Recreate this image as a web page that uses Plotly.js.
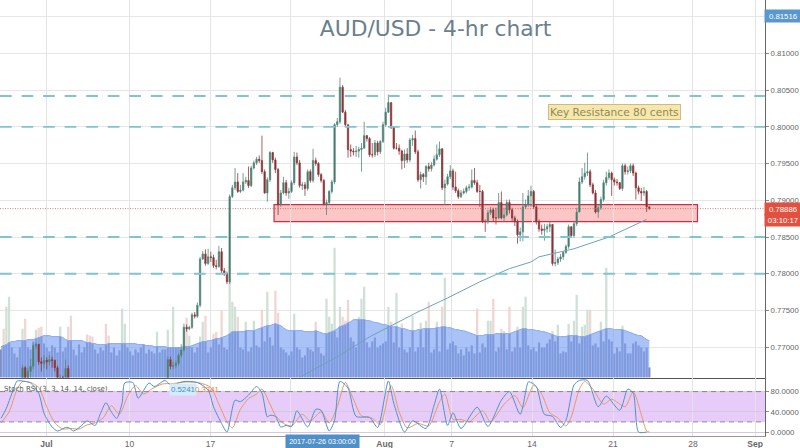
<!DOCTYPE html>
<html><head><meta charset="utf-8">
<script src="https://cdn.plot.ly/plotly-3.0.1.min.js"></script>
<style>html,body{margin:0;padding:0;background:#fff}#c{width:800px;height:448px}</style>
</head><body><div id="c"></div>
<script>
// Hidden bars lie below the visible price pane and cannot be read: null.
const N8=[null,null,null,null,null,null,null,null];
const N36=new Array(36).fill(null);
const closeA=[0.7672,0.7656,0.7667,0.7674,0.7702,0.7704,0.7680,0.7678,0.7682,0.7680,0.7683,0.7682,0.7672,0.7656,0.7659,0.7657,0.7671,0.7653];
const highA=[0.7676,0.7674,0.7672,0.7684,0.7705,0.7706,0.7702,0.7686,0.7689,0.7686,0.7689,0.7687,0.7683,0.7675,0.7663,0.7661,0.7683,0.7675];
const lowA=[0.7656,0.7649,0.7649,0.7656,0.7670,0.7697,0.7676,0.7667,0.7672,0.7670,0.7675,0.7672,0.7667,0.7648,0.7649,0.7650,0.7653,0.7642];
const closeB=[0.7683,0.7674,0.7675,0.7678,0.7689,0.7696,0.7727,0.7725,0.7727,0.7744,0.7742,0.7757,0.7820,0.7827,0.7814,0.7823,0.7822,0.7811,0.7810,0.7830,0.7804,0.7800,0.7789,0.7905,0.7917,0.7925,0.7912,0.7914,0.7925,0.7927,0.7920,0.7944,0.7951,0.7956,0.7954,0.7939,0.7910,0.7928,0.7965,0.7955,0.7942,0.7894,0.7910,0.7924,0.7910,0.7912,0.7924,0.7959,0.7951,0.7920,0.7921,0.7916,0.7939,0.7927,0.7954,0.7950,0.7935,0.7927,0.7895,0.7897,0.7912,0.7925,0.8003,0.8007,0.8054,0.8020,0.8003,0.7969,0.7967,0.7966,0.7967,0.7969,0.7971,0.7988,0.7984,0.7962,0.7962,0.7978,0.7966,0.7980,0.8003,0.8020,0.8033,0.7999,0.7971,0.7971,0.7967,0.7954,0.7963,0.7955,0.7982,0.7984,0.7966,0.7928,0.7935,0.7932,0.7946,0.7943,0.7948,0.7956,0.7962,0.7970,0.7917,0.7922,0.7932,0.7940,0.7918,0.7913,0.7905,0.7910,0.7912,0.7917,0.7918,0.7927,0.7924,0.7912,0.7912,0.7871,0.7871,0.7883,0.7887,0.7876,0.7876,0.7897,0.7876,0.7880,0.7897,0.7887,0.7876,0.7871,0.7853,0.7857,0.7891,0.7894,0.7906,0.7912,0.7891,0.7871,0.7861,0.7859,0.7861,0.7864,0.7867,0.7814,0.7815,0.7820,0.7823,0.7829,0.7837,0.7864,0.7852,0.7868,0.7884,0.7925,0.7932,0.7937,0.7939,0.7921,0.7910,0.7884,0.7890,0.7901,0.7924,0.7931,0.7937,0.7928,0.7925,0.7924,0.7916,0.7947,0.7939,0.7940,0.7947,0.7937,0.7917,0.7912,0.7910,0.7912,0.7891,0.7889];
const highB=[0.7687,0.7687,0.7680,0.7682,0.7692,0.7704,0.7732,0.7731,0.7729,0.7747,0.7748,0.7761,0.7823,0.7831,0.7833,0.7834,0.7830,0.7826,0.7819,0.7838,0.7835,0.7808,0.7803,0.7908,0.7921,0.7944,0.7937,0.7921,0.7937,0.7932,0.7946,0.7947,0.7954,0.7959,0.7961,0.7988,0.7942,0.7931,0.7967,0.7966,0.7958,0.7944,0.7914,0.7932,0.7928,0.7917,0.7927,0.7966,0.7965,0.7955,0.7925,0.7925,0.7942,0.7942,0.7970,0.7958,0.7952,0.7937,0.7929,0.7901,0.7914,0.7928,0.8005,0.8012,0.8067,0.8057,0.8023,0.8003,0.7976,0.7971,0.7974,0.7973,0.7978,0.8007,0.7989,0.7986,0.7978,0.7982,0.7981,0.7982,0.8007,0.8026,0.8044,0.8033,0.8001,0.7978,0.7976,0.7969,0.7969,0.7971,0.7985,0.7989,0.7995,0.7969,0.7939,0.7937,0.7948,0.7951,0.7952,0.7961,0.7976,0.7980,0.7971,0.7928,0.7936,0.7948,0.7943,0.7939,0.7916,0.7914,0.7916,0.7920,0.7922,0.7942,0.7944,0.7928,0.7921,0.7914,0.7874,0.7887,0.7891,0.7890,0.7890,0.7910,0.7912,0.7890,0.7901,0.7901,0.7890,0.7879,0.7874,0.7863,0.7910,0.7901,0.7914,0.7920,0.7914,0.7894,0.7874,0.7867,0.7868,0.7868,0.7871,0.7865,0.7833,0.7823,0.7827,0.7831,0.7840,0.7867,0.7864,0.7872,0.7890,0.7931,0.7944,0.7951,0.7965,0.7942,0.7924,0.7914,0.7894,0.7905,0.7928,0.7939,0.7942,0.7939,0.7931,0.7929,0.7925,0.7950,0.7950,0.7946,0.7950,0.7950,0.7939,0.7920,0.7917,0.7918,0.7914,0.7892];
const lowB=[0.7649,0.7670,0.7670,0.7671,0.7675,0.7686,0.7694,0.7721,0.7723,0.7725,0.7739,0.7740,0.7754,0.7819,0.7811,0.7812,0.7816,0.7808,0.7806,0.7808,0.7801,0.7797,0.7786,0.7786,0.7903,0.7914,0.7910,0.7910,0.7912,0.7922,0.7917,0.7918,0.7942,0.7948,0.7951,0.7936,0.7909,0.7898,0.7925,0.7951,0.7937,0.7880,0.7891,0.7908,0.7906,0.7902,0.7910,0.7921,0.7948,0.7917,0.7914,0.7906,0.7913,0.7924,0.7924,0.7947,0.7932,0.7924,0.7893,0.7880,0.7894,0.7909,0.7922,0.8000,0.8004,0.8019,0.8000,0.7958,0.7959,0.7961,0.7959,0.7958,0.7939,0.7976,0.7980,0.7959,0.7958,0.7959,0.7961,0.7963,0.7978,0.8000,0.8019,0.7997,0.7969,0.7969,0.7962,0.7942,0.7944,0.7951,0.7952,0.7974,0.7963,0.7925,0.7916,0.7925,0.7921,0.7939,0.7939,0.7946,0.7954,0.7959,0.7914,0.7894,0.7920,0.7929,0.7914,0.7910,0.7902,0.7903,0.7908,0.7909,0.7913,0.7916,0.7921,0.7910,0.7891,0.7869,0.7857,0.7868,0.7880,0.7871,0.7867,0.7874,0.7874,0.7871,0.7878,0.7882,0.7871,0.7865,0.7841,0.7844,0.7844,0.7888,0.7891,0.7891,0.7888,0.7867,0.7857,0.7853,0.7845,0.7856,0.7857,0.7811,0.7810,0.7812,0.7816,0.7819,0.7827,0.7834,0.7849,0.7849,0.7865,0.7884,0.7922,0.7928,0.7933,0.7918,0.7908,0.7882,0.7876,0.7887,0.7898,0.7920,0.7928,0.7906,0.7920,0.7920,0.7914,0.7913,0.7935,0.7935,0.7937,0.7933,0.7901,0.7908,0.7899,0.7906,0.7884,0.7887];
const closes=[...N8,...closeA,...N36,...closeB];
const highs=[...N8,...highA,...N36,...highB];
const lows=[...N8,...lowA,...N36,...lowB];
const opens=closes.map((c,i)=>c===null?null:(i>0&&closes[i-1]!==null?closes[i-1]:lows[i]));
const bars=closes.map((_,i)=>i);
// Volume, arbitrary units
const volume=[28,49,71,81,30,24,20,30,49,59,30,28,36,48,50,51,34,30,26,32,30,25,51,26,30,51,62,28,22,33,25,30,43,42,41,28,24,30,27,54,42,25,30,22,27,69,54,30,26,22,28,25,30,33,24,28,26,24,46,25,28,28,48,30,71,30,30,28,51,60,42,30,25,30,41,56,62,25,30,44,46,33,67,30,28,97,76,71,61,30,28,56,26,30,57,32,30,68,36,86,40,32,87,65,30,28,25,22,26,64,30,28,20,22,30,28,26,56,30,24,22,79,61,54,130,40,71,61,57,78,40,36,30,61,79,91,35,30,36,40,30,32,34,36,71,56,35,85,30,54,28,25,30,62,26,30,55,30,57,76,25,28,56,26,71,100,28,34,36,32,24,28,22,30,26,32,24,69,25,34,30,57,57,79,26,30,49,47,28,71,26,30,51,30,71,81,32,28,30,26,35,30,30,34,38,47,36,53,24,26,25,54,36,57,83,34,51,53,68,68,32,34,30,56,36,110,38,36,24,30,26,52,34,24,24,34,36,32,30,26,30,10];
const volumeAvg=[31,32,33,35,36,36,37,37,37,37,38,38,38,39,40,41,42,42,42,41,41,41,41,40,38,37,37,37,37,37,37,36,35,35,34,34,33,33,33,33,34,34,34,34,34,34,34,34,34,34,34,33,33,33,32,32,32,31,31,31,31,31,30,30,30,30,30,30,31,31,31,32,33,34,35,36,36,37,37,38,39,39,40,41,42,44,46,46,46,46,46,47,47,47,47,48,49,50,51,52,52,53,54,53,52,50,48,47,47,47,47,47,47,46,46,46,46,47,46,45,44,44,45,46,47,49,51,52,53,55,56,58,58,58,58,58,57,57,56,55,55,54,53,53,52,51,51,51,50,49,49,48,47,47,47,48,48,49,49,49,49,49,50,50,51,51,50,50,49,48,48,47,47,46,45,44,43,42,42,42,43,43,43,43,44,44,44,44,44,44,45,46,47,48,49,49,48,48,48,47,47,46,46,45,44,43,42,41,41,41,41,42,42,42,42,41,41,41,42,43,44,45,46,47,48,49,49,49,48,48,48,48,47,46,45,44,43,42,42,40,38,37];
const hiddenUpBars=[2,3,9,10,12,13,18,19,27,28,31,45,46,47,48,52,55,58,59,60];
const smaBars=[111,125,137,145,155,166,178,189,197,200,213,226,237,240];
const smaPrice=[0.7659,0.7687,0.7714,0.7729,0.7748,0.7767,0.7789,0.7807,0.7816,0.7823,0.7834,0.7850,0.7868,0.7874];
const kBars=[0,2,5,6,9,11,14,16,19,21,24,25,27,30,32,35,37,39,41,43,45,46,49,51,55,57,61,63,68,73,77,79,82,84,87,89,92,95,97,99,100,102,104,106,108,110,114,117,119,122,124,126,129,132,137,140,144,146,150,153,158,161,163,166,168,171,177,181,186,189,193,196,197,199,202,205,208,210,213,215,218,222,225,230,233,235,237,240];
const kValues=[27,47,90,101,100,97,77,37,10,2,9,9,2,13,22,13,37,58,40,27,57,97,98,67,97,90,102,93,100,98,83,50,17,0,63,60,73,90,77,30,33,31,10,13,11,42,10,45,43,2,23,100,87,31,29,9,101,57,0,22,7,53,85,13,38,7,49,11,63,80,35,99,98,90,35,31,9,23,93,102,102,50,71,43,85,77,0,0];
const dBars=[0,3,6,8,11,14,17,20,23,26,29,32,35,38,41,44,47,50,53,56,60,64,69,74,78,81,84,86,89,92,95,97,100,102,105,108,112,115,119,122,125,128,131,134,138,141,145,148,151,155,159,163,165,168,171,174,179,182,187,191,194,198,201,204,207,210,212,215,217,220,224,227,232,235,238,240,241];
const dValues=[18,40,85,100,98,88,50,18,6,7,6,14,18,28,52,35,70,92,75,85,95,96,99,97,88,55,20,8,45,66,75,85,55,33,17,12,35,22,40,18,50,98,65,32,27,15,92,40,8,17,12,60,75,25,25,20,42,20,55,72,48,92,75,38,28,12,30,85,100,85,55,65,50,80,35,2,0];
const priceTicks=[0.77,0.775,0.78,0.785,0.79,0.795,0.80,0.805,0.81,0.815];
const priceTickText=['0.77000','0.77500','0.78000','0.78500','0.79000','0.79500','0.80000','0.80500','0.81000',''];
const stochTicks=[0,40,80];
const stochTickText=['0.0000','40.0000','80.0000'];
const xTickBars=[0,16.9,47.8,77.9,107.7,142.6,167.5,197.4,227.5,257.2,280.3];
const xTickText=['','<b>Jul</b>','10','17','','<b>Aug</b>','7','14','21','28','<b>Sep</b>'];
const levels=[0.8042,0.80,0.785,0.78];
const zoneLow=0.7871, zoneHigh=0.7894, zoneFrom=101.5, zoneTo=258.9;
const lastPrice=0.78886, crossPrice=0.81516;

const upBar=i=>closes[i]===null?hiddenUpBars.includes(i):closes[i]>=opens[i];
const xr=[-0.37,284];
const traces=[
 {type:'bar',x:bars,y:volume,xaxis:'x',yaxis:'y',width:0.85,hoverinfo:'skip',
  marker:{color:bars.map(i=>upBar(i)?'#cfe1d6':'#eed6d4'),line:{width:0}}},
 {type:'bar',x:bars,y:volume.map((v,i)=>Math.min(v,volumeAvg[i])),xaxis:'x',yaxis:'y',width:0.75,hoverinfo:'skip',
  marker:{color:'#868cb4',line:{width:0}}},
 {type:'scatter',mode:'lines',x:bars,y:volumeAvg,xaxis:'x',yaxis:'y',fill:'tozeroy',fillcolor:'rgba(123,161,245,0.65)',
  line:{color:'#88a8ee',width:1},hoverinfo:'skip'},
 {type:'candlestick',x:bars,open:opens,high:highs,low:lows,close:closes,xaxis:'x',yaxis:'y2',whiskerwidth:0,
  increasing:{line:{color:'#54877a',width:0.8},fillcolor:'#3a7565'},
  decreasing:{line:{color:'#8d3a3c',width:0.8},fillcolor:'#8a2a2e'},hoverinfo:'skip'},
 {type:'scatter',mode:'lines',x:smaBars,y:smaPrice,xaxis:'x',yaxis:'y2',line:{color:'#6fa3b8',width:1},hoverinfo:'skip'},
 {type:'scatter',mode:'lines',x:dBars,y:dValues,xaxis:'x2',yaxis:'y3',line:{color:'#e59a63',width:1,shape:'spline',smoothing:0.7},hoverinfo:'skip'},
 {type:'scatter',mode:'lines',x:kBars,y:kValues,xaxis:'x2',yaxis:'y3',line:{color:'#4f92c6',width:1,shape:'spline',smoothing:0.7},hoverinfo:'skip'}
];
const dashLine=levels.map(p=>({type:'line',xref:'paper',x0:0,x1:1,yref:'y2',y0:p,y1:p,layer:'above',
  line:{color:'#80c4cf',width:1.8,dash:'11.7px,9.85px'}}));
const shapes=[
 {type:'rect',xref:'x',yref:'y2',x0:zoneFrom,x1:zoneTo,y0:zoneLow,y1:zoneHigh,layer:'below',fillcolor:'#fcc6c6',line:{color:'#cc2f40',width:1.2}},
 ...dashLine,
 {type:'line',xref:'paper',x0:0,x1:1,yref:'y2',y0:lastPrice,y1:lastPrice,layer:'above',line:{color:'#b5655f',width:0.8,dash:'1px,1.5px'}},
 {type:'rect',xref:'paper',x0:0,x1:1,yref:'y3',y0:20,y1:80,layer:'below',fillcolor:'#e7cbf9',line:{width:0}},
 {type:'line',xref:'paper',x0:0,x1:1,yref:'y3',y0:80,y1:80,layer:'above',line:{color:'#8a7a98',width:0.9,dash:'5px,4px'}},
 {type:'line',xref:'paper',x0:0,x1:1,yref:'y3',y0:20,y1:20,layer:'above',line:{color:'#8a7a98',width:0.9,dash:'5px,4px'}}
];
const tickF={family:'Liberation Sans, Arial, sans-serif',size:7.8,color:'#666'};
const xTickF={family:'Liberation Sans, Arial, sans-serif',size:8.5,color:'#666'};
const badgeF={family:'Liberation Sans, Arial, sans-serif',size:7.8,color:'#fff'};
const annotations=[
 {xref:'x',yref:'y2',x:228.2,y:0.8020,text:'Key Resistance 80 cents',showarrow:false,bgcolor:'#f8e7ab',bordercolor:'#cdbb85',borderwidth:1,borderpad:1,
  font:{family:'DejaVu Sans, sans-serif',size:10.6,color:'#8d8a58'}},
 {xref:'paper',yref:'y2',x:783/765,xanchor:'center',y:crossPrice,text:'0.81516',showarrow:false,bgcolor:'#5a97cf',width:34,height:10,font:badgeF},
 {xref:'paper',yref:'y2',x:783/765,xanchor:'center',y:lastPrice,text:'0.78886',showarrow:false,bgcolor:'#e2513f',width:34,height:10,font:badgeF},
 {xref:'paper',yref:'y2',x:783/765,xanchor:'center',y:lastPrice,yshift:-11,text:'03:10:17',showarrow:false,bgcolor:'#e2513f',width:34,height:10,font:badgeF},
 {xref:'x2',yref:'paper',x:119.6,y:-0.0126,yanchor:'middle',text:'2017-07-26 03:00:00',showarrow:false,bgcolor:'#4f90c8',width:71,height:11,
  font:{family:'Liberation Sans, Arial, sans-serif',size:7.2,color:'#fff'}},
 {xref:'paper',yref:'y3',x:2/765,xanchor:'left',y:85,yanchor:'middle',text:'Stoch RSI (3, 3, 14, 14, close)',showarrow:false,
  font:{family:'DejaVu Sans, sans-serif',size:7,color:'#555'}},
 {xref:'paper',yref:'y3',x:182.5/765,xanchor:'center',y:85,yanchor:'middle',text:'0.5241',showarrow:false,bgcolor:'#d5ecf8',font:{family:'Liberation Sans, sans-serif',size:7.8,color:'#3f8fc6'}},
 {xref:'paper',yref:'y3',x:207.5/765,xanchor:'center',y:85,yanchor:'middle',text:'0.3341',showarrow:false,font:{family:'Liberation Sans, sans-serif',size:7.8,color:'#e08a4a'}}
];
const layout={
 width:800,height:448,margin:{l:0,r:35,t:0,b:11.5,pad:0},paper_bgcolor:'#fff',plot_bgcolor:'#fff',
 showlegend:false,barmode:'overlay',dragmode:false,
 title:{text:'AUD/USD - 4-hr chart',x:435.5/765,xanchor:'center',xref:'paper',y:1-28/448,yref:'container',yanchor:'middle',
   font:{family:'DejaVu Sans, sans-serif',size:21.8,color:'#6b7f8d'}},
 xaxis:{domain:[0,1],anchor:'y',range:xr,tickvals:xTickBars,ticktext:xTickText.map(()=>''),showgrid:true,gridcolor:'#e4e4e4',gridwidth:1,
   showline:true,linecolor:'#555',linewidth:1,ticks:'',zeroline:false,rangeslider:{visible:false},fixedrange:true},
 xaxis2:{domain:[0,1],anchor:'y3',range:xr,tickvals:xTickBars,ticktext:xTickText,showgrid:true,gridcolor:'#e4e4e4',gridwidth:1,
   showline:true,linecolor:'#999',linewidth:1,ticks:'',tickfont:xTickF,zeroline:false,rangeslider:{visible:false},fixedrange:true,tickangle:0},
 yaxis:{domain:[0.134,1],anchor:'x',range:[0,378],visible:false,fixedrange:true},
 yaxis2:{domain:[0.134,1],anchor:'x',overlaying:'y',side:'right',range:[0.76586,0.81727],tickmode:'array',tickvals:priceTicks,ticktext:priceTickText,
   showgrid:true,gridcolor:'#e6e6e6',gridwidth:1,showline:true,linecolor:'#666',linewidth:1,ticks:'outside',ticklen:3,tickcolor:'#888',tickfont:tickF,zeroline:false,fixedrange:true},
 yaxis3:{domain:[0,0.134],anchor:'x2',side:'right',range:[-7.9,107.7],tickmode:'array',tickvals:stochTicks,ticktext:stochTickText,
   showgrid:true,gridcolor:'#d5c8e0',gridwidth:1,showline:true,linecolor:'#666',linewidth:1,ticks:'outside',ticklen:3,tickcolor:'#888',tickfont:tickF,zeroline:false,fixedrange:true},
 shapes:shapes,annotations:annotations
};
Plotly.newPlot('c',traces,layout,{displayModeBar:false,staticPlot:true});
</script></body></html>
